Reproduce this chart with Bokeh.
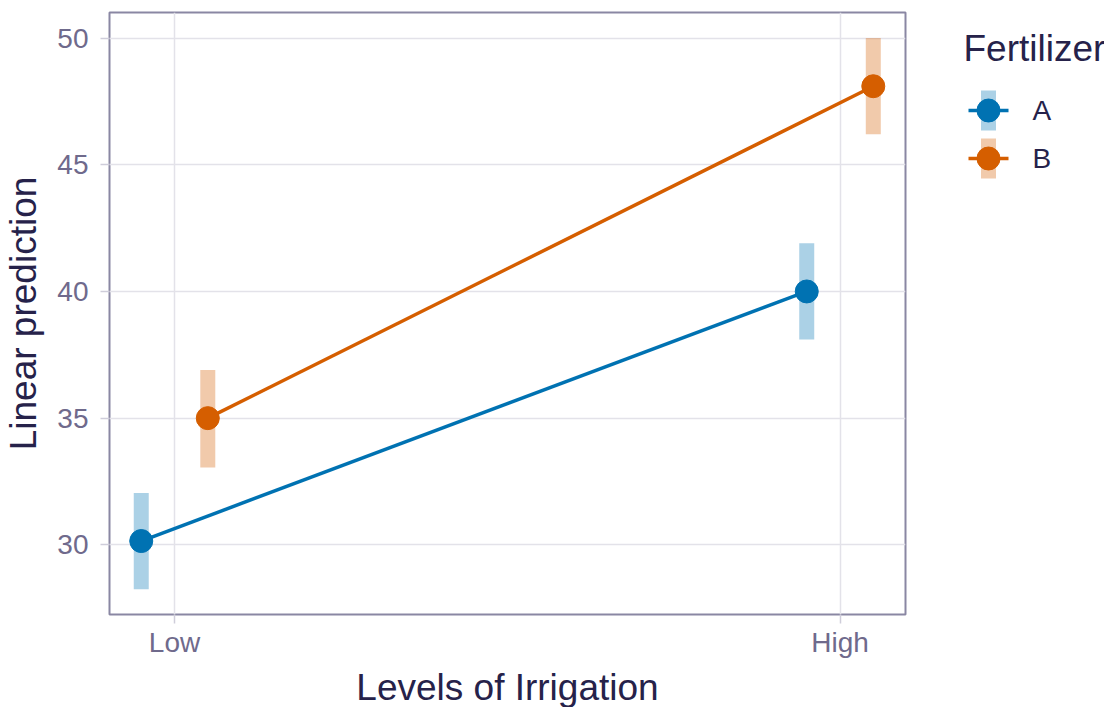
from bokeh.plotting import figure
from bokeh.models import ColumnDataSource, Range1d, FixedTicker
from bokeh.layouts import row
from bokeh.transform import dodge
from bokeh.core.properties import value
from bokeh.embed import file_html
from bokeh.resources import INLINE

# ---- data ----
irrigation = ["Low", "High"]
fertilizer = ["A", "B"]
pred_A = [30.15, 40.0]
lower_A = [28.25, 38.1]
upper_A = [32.05, 41.9]
pred_B = [35.0, 48.1]
lower_B = [33.05, 46.2]
upper_B = [36.9, 50.0]
y_ticks = [30, 35, 40, 45, 50]

colors = {"A": "#0072B2", "B": "#D55E00"}
offsets = {"A": -0.05, "B": 0.05}
FONT = "Liberation Sans"
TITLE_C = "#26224a"
TICK_C = "#6f6a8c"

BT, BB = 12, 85
FH = 602

p = figure(output_backend="svg", toolbar_location=None,
           frame_width=796, frame_height=FH,
           min_border_left=107, min_border_top=BT, min_border_bottom=BB, min_border_right=10,
           x_range=Range1d(0.9023, 2.0984), y_range=Range1d(27.25, 51.01))

xpos = [irrigation.index(l) + 1 for l in irrigation]
series = {"A": (pred_A, lower_A, upper_A), "B": (pred_B, lower_B, upper_B)}
for f in fertilizer:
    pr, lo, up = series[f]
    src = ColumnDataSource(dict(x=xpos, y=pr, lo=lo, up=up))
    xd = dodge("x", offsets[f])
    p.segment(x0=xd, x1=xd, y0="lo", y1="up", source=src,
              line_color=colors[f], line_alpha=0.33, line_width=15, line_cap="butt")
    p.line(x=xd, y="y", source=src, line_color=colors[f], line_width=3.5)
    p.scatter(x=xd, y="y", source=src, size=23, fill_color=colors[f], line_color=colors[f])

p.xaxis.ticker = FixedTicker(ticks=xpos)
p.xaxis.major_label_overrides = {i + 1: l for i, l in enumerate(irrigation)}
p.yaxis.ticker = FixedTicker(ticks=y_ticks)
p.xaxis.axis_label = "Levels of Irrigation"
p.yaxis.axis_label = "Linear prediction"
for ax in (p.xaxis, p.yaxis):
    ax.axis_line_color = None
    ax.major_tick_line_color = "#cfcdda"
    ax.major_tick_line_width = 1.5
    ax.major_tick_out = 9
    ax.major_tick_in = 0
    ax.minor_tick_line_color = None
    ax.major_label_text_font = FONT
    ax.major_label_text_font_size = "28px"
    ax.major_label_text_color = TICK_C
    ax.axis_label_text_font = FONT
    ax.axis_label_text_font_size = "37px"
    ax.axis_label_text_font_style = "normal"
    ax.axis_label_text_color = TITLE_C
p.xaxis.major_label_standoff = 3
p.yaxis.major_label_standoff = 12
p.xaxis.axis_label_standoff = 6
p.yaxis.axis_label_standoff = 10
p.xgrid.ticker = FixedTicker(ticks=xpos)
p.ygrid.ticker = FixedTicker(ticks=y_ticks)
p.grid.grid_line_color = "#e3e2e9"
p.grid.grid_line_width = 1.5
p.outline_line_color = "#8a87a3"
p.outline_line_width = 2
p.background_fill_color = "white"
p.border_fill_color = "white"

# ---- legend panel (frame aligned with the main frame) ----
LW = 189
lg = figure(output_backend="svg", toolbar_location=None,
            frame_width=LW, frame_height=FH, min_border=0,
            x_axis_type=None, y_axis_type=None,
            x_range=Range1d(0, LW), y_range=Range1d(FH, 0),
            outline_line_color=None)
lg.grid.visible = False
lg.text(x=[48], y=[36], text=["Fertilizer"], text_font=value(FONT),
        text_font_size="37px", text_color=TITLE_C, text_baseline="middle")
for i, f in enumerate(fertilizer):
    yc = 98 + 48 * i
    lg.segment(x0=[73], x1=[73], y0=[yc - 20], y1=[yc + 20], line_color=colors[f],
               line_alpha=0.33, line_width=15, line_cap="butt")
    lg.segment(x0=[53], x1=[93], y0=[yc], y1=[yc], line_color=colors[f], line_width=3.5)
    lg.scatter(x=[73], y=[yc], size=23, fill_color=colors[f], line_color=colors[f])
    lg.text(x=[117], y=[yc], text=[f], text_font=value(FONT), text_font_size="28px",
            text_color=TITLE_C, text_baseline="middle")

layout = row(p, lg)
open("out.html", "w").write(file_html(layout, INLINE))
